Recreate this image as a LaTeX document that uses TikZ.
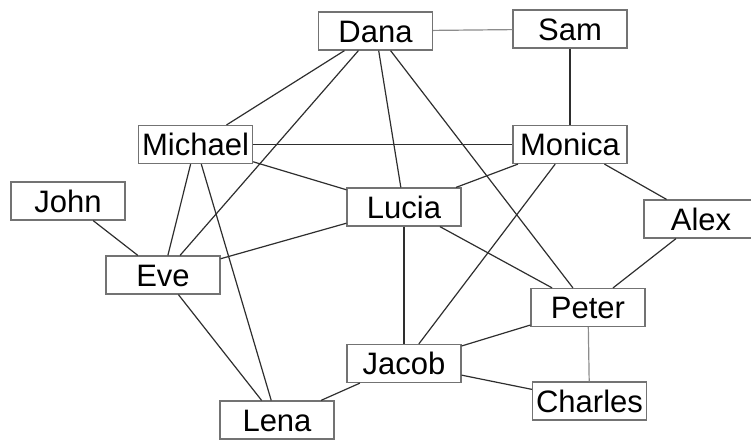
\documentclass[tikz,border=0pt]{standalone}
\usepackage{fontspec}
\setmainfont{Liberation Sans}
\begin{document}
\begin{tikzpicture}[x=1pt,y=-1pt,
  person/.style={draw=black!55, line width=1.2pt, fill=white, minimum width=114pt, minimum height=38pt,
    inner sep=0pt, text height=22.3pt, text depth=0pt, font=\fontsize{31}{36}\selectfont},
  link/.style={draw=black!82, line width=1.2pt},
  lightlink/.style={draw=black!45, line width=1.2pt}]
\useasboundingbox (0,0) rectangle (751,440);
\node[person] (dana) at (375.5,31) {Dana};
\node[person] (sam) at (570,29) {Sam};
\node[person] (monica) at (570,144.5) {Monica};
\node[person] (michael) at (195.5,144.5) {Michael};
\node[person] (john) at (68,201) {John};
\node[person] (eve) at (163,275) {Eve};
\node[person] (lucia) at (404,207) {Lucia};
\node[person] (alex) at (701,219) {Alex};
\node[person] (peter) at (588,307.5) {Peter};
\node[person] (jacob) at (404,363.5) {Jacob};
\node[person] (charles) at (589.5,401) {Charles};
\node[person] (lena) at (277,420) {Lena};
\draw[lightlink] (dana) -- (sam);
\draw[link] (sam) -- (monica);
\draw[link] (dana) -- (michael);
\draw[link] (dana) -- (eve);
\draw[link] (dana) -- (lucia);
\draw[link] (dana) -- (peter);
\draw[link] (michael) -- (monica);
\draw[link] (michael) -- (lucia);
\draw[link] (michael) -- (eve);
\draw[link] (michael) -- (lena);
\draw[link] (monica) -- (lucia);
\draw[link] (monica) -- (jacob);
\draw[link] (monica) -- (alex);
\draw[link] (john) -- (eve);
\draw[link] (eve) -- (lucia);
\draw[link] (eve) -- (lena);
\draw[link] (lucia) -- (jacob);
\draw[link] (lucia) -- (peter);
\draw[link] (alex) -- (peter);
\draw[link] (peter) -- (jacob);
\draw[lightlink] (peter) -- (charles);
\draw[link] (jacob) -- (charles);
\draw[link] (jacob) -- (lena);
\end{tikzpicture}
\end{document}
